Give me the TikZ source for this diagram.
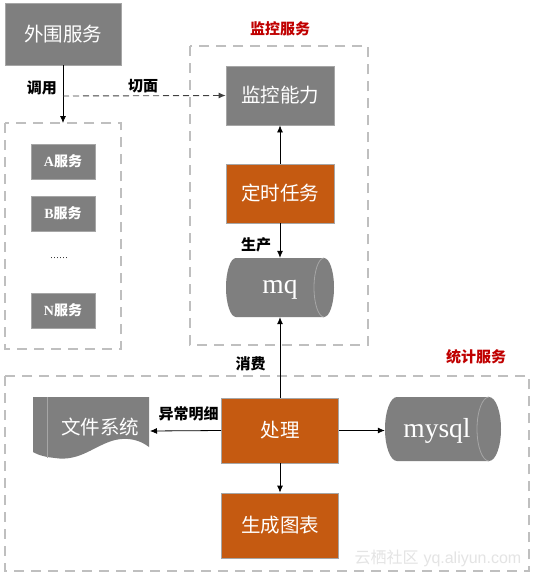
\documentclass[tikz,border=0pt]{standalone}
\usepackage{fontspec}
\newfontfamily\cjk{Noto Sans CJK SC}
\newfontfamily\serif{Liberation Serif}
\newfontfamily\sans{Liberation Sans}
\usetikzlibrary{arrows.meta}
\definecolor{boxgray}{HTML}{7F7F7F}
\definecolor{boxedge}{HTML}{A6A6A6}
\definecolor{boxorange}{HTML}{C55A11}
\definecolor{titlered}{HTML}{C00000}
\definecolor{dashgray}{HTML}{BFBFBF}
\definecolor{wmgray}{HTML}{E4E4E4}
\tikzset{
  x=1pt, y=1pt,
  basebox/.style={draw=boxedge, line width=0.8pt, text=white, inner sep=0pt,
    font=\cjk\fontsize{19.5}{20}\selectfont},
  graybox/.style={basebox, fill=boxgray},
  orangebox/.style={basebox, fill=boxorange},
  smallbox/.style={draw=boxedge, line width=0.8pt, fill=boxgray, text=white, inner sep=0pt,
    minimum width=64pt, minimum height=35pt, font=\fontsize{14}{14}\selectfont\bfseries},
  lbl/.style={inner sep=0pt, font=\cjk\bfseries\fontsize{15}{15}\selectfont},
  redlbl/.style={lbl, text=titlered},
  group/.style={draw=dashgray, line width=1.6pt, dash pattern=on 10pt off 7pt},
  arr/.style={draw=black, line width=0.8pt, -{Latex[length=7pt,width=6pt]}},
  darr/.style={draw=black!75, line width=0.9pt, dash pattern=on 6pt off 4pt, -{Latex[length=7pt,width=6pt]}},
  dbtext/.style={inner sep=0pt, text=white, font=\serif\fontsize{27.5}{28}\selectfont},
}
\begin{document}
\begin{tikzpicture}
\useasboundingbox (0,0) rectangle (536,-576);
\fill[white] (0,0) rectangle (536,-576);

% dashed groups
\draw[group] (5,-123) rectangle (121,-349);
\draw[group] (190,-46) rectangle (368,-345);
\draw[group] (5,-376) rectangle (529,-571);

% titles
\node[redlbl] (tmon) at (280,-28.5) {监控服务};
\node[redlbl] (tstat) at (476,-357) {统计服务};

% outer service
\node[graybox, minimum width=116pt, minimum height=62pt] (outer) at (63,-34) {外围服务};
\coordinate (grouptop) at (63,-123);
\coordinate (split) at (63,-96);

% small services
\node[smallbox] (sa) at (63,-161.5) {{\serif A}{\cjk 服务}};
\node[smallbox] (sb) at (63,-213.5) {{\serif B}{\cjk 服务}};
\node[inner sep=0pt, font=\serif\fontsize{9}{9}\selectfont] (dots) at (59,-258) {……};
\node[smallbox] (sn) at (63,-310.5) {{\serif N}{\cjk 服务}};

% monitor
\node[graybox, minimum width=108pt, minimum height=59pt] (moncap) at (280,-95.5) {监控能力};
\node[orangebox, minimum width=108pt, minimum height=59pt] (timer) at (280,-193.5) {定时任务};

% mq cylinder
\fill[boxgray] (236,-258) -- (324,-258) arc[start angle=90, end angle=-90, x radius=10, y radius=29.5]
  -- (236,-317) arc[start angle=270, end angle=90, x radius=10, y radius=29.5] -- cycle;
\draw[boxedge, line width=0.8pt] (324,-258) arc[start angle=90, end angle=270, x radius=10, y radius=29.5];
\node[inner sep=0pt, minimum width=108pt, minimum height=59pt] (mq) at (280,-287.5) {};
\node[dbtext, anchor=base] (mqt) at (280,-293) {mq};

% stat
\node[orangebox, minimum width=117pt, minimum height=65pt] (proc) at (280,-430.5) {处理};
\node[orangebox, minimum width=117pt, minimum height=65pt] (chart) at (280,-525.5) {生成图表};

% mysql cylinder
\fill[boxgray] (397,-397) -- (489,-397) arc[start angle=90, end angle=-90, x radius=12, y radius=32]
  -- (397,-461) arc[start angle=270, end angle=90, x radius=12, y radius=32] -- cycle;
\draw[boxedge, line width=0.8pt] (489,-397) arc[start angle=90, end angle=270, x radius=12, y radius=32];
\node[inner sep=0pt, minimum width=116pt, minimum height=64pt] (mysql) at (443,-429) {};
\node[dbtext, anchor=base] (mysqlt) at (437,-437) {mysql};

% document shape
\fill[boxgray] (33,-397) -- (149,-397) -- (149,-447)
  .. controls (140,-440) and (128,-437) .. (115,-440)
  .. controls (95,-445) and (80,-462) .. (55,-458)
  .. controls (45,-457) and (38,-455) .. (33,-452) -- cycle;
\draw[boxedge, line width=0.8pt] (47.5,-397) -- (47.5,-457.5);
\node[inner sep=0pt, minimum width=116pt, minimum height=40pt] (fs) at (91,-417) {};
\node[inner sep=0pt, text=white, font=\cjk\fontsize{19.5}{20}\selectfont] (fst) at (100,-427) {文件系统};
\coordinate (fsin) at (150,-431);

% watermark
\node[inner sep=0pt, text=wmgray, font=\fontsize{16}{16}\selectfont] (wm) at (438,-558) {{\cjk 云栖社区} {\sans yq.aliyun.com}};

% connectors
\draw[arr] (outer.south) -- (grouptop);
\draw[darr] (split) -- (moncap.west);
\draw[arr] (timer.north) -- (moncap.south);
\draw[arr] (timer.south) -- (mq.south |- mq.north);
\draw[arr] (proc.north) -- (mq.south);
\draw[arr] (proc.west) -- (fsin);
\draw[arr] (proc.east) -- (mysql.west |- proc.east);
\draw[arr] (proc.south) -- (chart.north);

% labels
\node[lbl] (lcall) at (42,-87.5) {调用};
\node[lbl] (lcut) at (143,-86) {切面};
\node[lbl] (lprod) at (256,-245) {生产};
\node[lbl] (lcons) at (250.5,-364) {消费};
\node[lbl] (lexc) at (188.5,-414) {异常明细};
\end{tikzpicture}
\end{document}
